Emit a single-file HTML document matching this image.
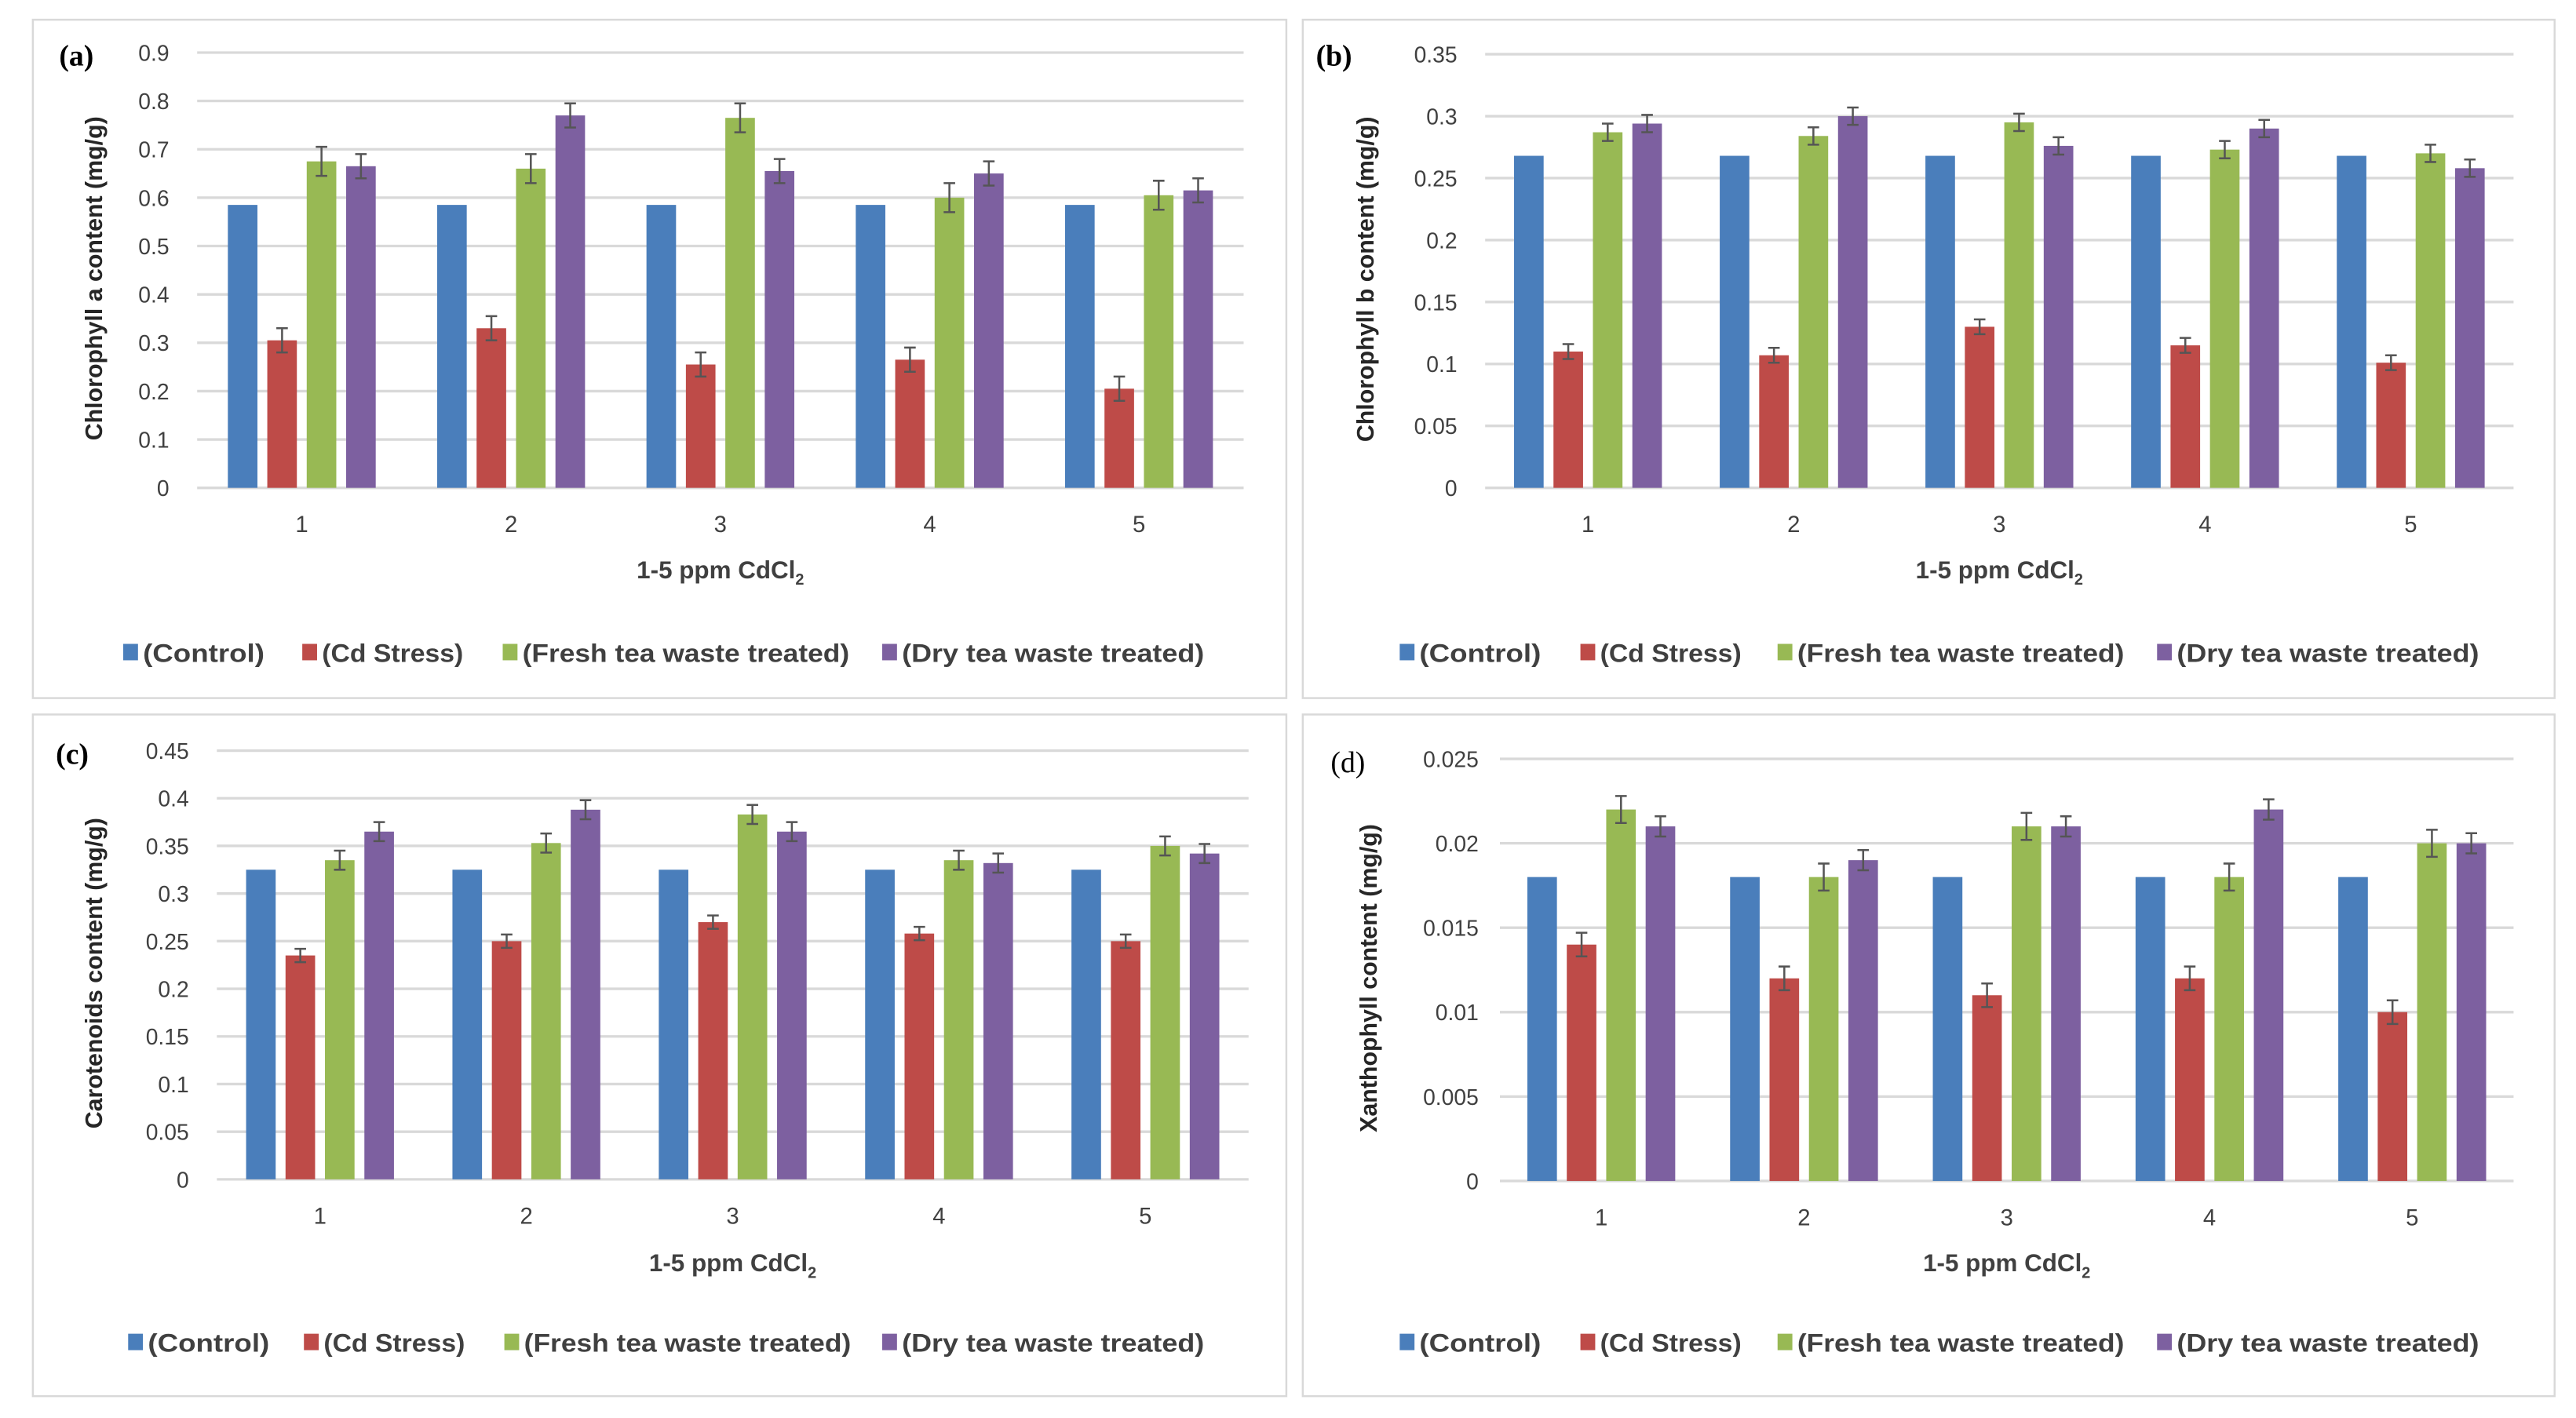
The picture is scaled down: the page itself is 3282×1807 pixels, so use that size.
<!DOCTYPE html>
<html><head><meta charset="utf-8"><style>
html,body{margin:0;padding:0;background:#fff;}
svg{display:block;font-family:"Liberation Sans",sans-serif;}
</style></head><body>
<svg id="fig" width="3282" height="1807" viewBox="0 0 1568 863.3"></svg>
<script>
const categories = ["1","2","3","4","5"];
const seriesNames = ["(Control)","(Cd Stress)","(Fresh tea waste treated)","(Dry tea waste treated)"];
const aControl = [0.585,0.585,0.585,0.585,0.585];
const aCd = [0.305,0.33,0.255,0.265,0.205];
const aFresh = [0.675,0.66,0.765,0.6,0.605];
const aDry = [0.665,0.77,0.655,0.65,0.615];
const aTicks = ["0","0.1","0.2","0.3","0.4","0.5","0.6","0.7","0.8","0.9"];
const bControl = [0.268,0.268,0.268,0.268,0.268];
const bCd = [0.11,0.107,0.13,0.115,0.101];
const bFresh = [0.287,0.284,0.295,0.273,0.27];
const bDry = [0.294,0.3,0.276,0.29,0.258];
const bTicks = ["0","0.05","0.1","0.15","0.2","0.25","0.3","0.35"];
const cControl = [0.325,0.325,0.325,0.325,0.325];
const cCd = [0.235,0.25,0.27,0.258,0.25];
const cFresh = [0.335,0.353,0.383,0.335,0.35];
const cDry = [0.365,0.388,0.365,0.332,0.342];
const cTicks = ["0","0.05","0.1","0.15","0.2","0.25","0.3","0.35","0.4","0.45"];
const dControl = [0.018,0.018,0.018,0.018,0.018];
const dCd = [0.014,0.012,0.011,0.012,0.010];
const dFresh = [0.022,0.018,0.021,0.018,0.020];
const dDry = [0.021,0.019,0.021,0.022,0.020];
const dTicks = ["0","0.005","0.01","0.015","0.02","0.025"];

const colors = ["#4a7ebb","#be4b48","#98b954","#7d60a0"];
const legendLens = [74,86,199,184];
const NS = "http://www.w3.org/2000/svg";
const svg = document.getElementById("fig");
function mk(tag, attrs, parent, text){
  const e = document.createElementNS(NS, tag);
  for (const k in attrs) e.setAttribute(k, attrs[k]);
  if (text !== undefined) e.textContent = text;
  (parent||svg).appendChild(e);
  return e;
}
const panels = [
 {id:"a", frame:[20,12,763,413], left:120, right:757, top:32, bottom:297, ticks:aTicks, series:[aControl,aCd,aFresh,aDry], err:[0,0.025,0.03,0.025], ytitle:"Chlorophyll a content  (mg/g)", ytx:62, lab:[36,40], tickX:103, catY:324, titleY:352, legY:403, legX:[75,184,306,537]},
 {id:"b", frame:[793,12,762,413], left:904, right:1530, top:33, bottom:297, ticks:bTicks, series:[bControl,bCd,bFresh,bDry], err:[0,0.006,0.007,0.007], ytitle:"Chlorophyll b content  (mg/g)", ytx:836, lab:[801,40], tickX:887, catY:324, titleY:352, legY:403, legX:[852,962,1082,1313]},
 {id:"c", frame:[20,435,763,415], left:132, right:760, top:457, bottom:718, ticks:cTicks, series:[cControl,cCd,cFresh,cDry], err:[0,0.007,0.01,0.01], ytitle:"Carotenoids content  (mg/g)", ytx:62, lab:[34,465], tickX:115, catY:745, titleY:774, legY:823, legX:[78,185,307,537]},
 {id:"d", frame:[793,435,762,415], left:913, right:1530, top:462, bottom:719, ticks:dTicks, series:[dControl,dCd,dFresh,dDry], err:[0,0.0007,0.0008,0.0006], ytitle:"Xanthophyll content (mg/g)", ytx:838, lab:[810,470], tickX:900, catY:746, titleY:774, legY:823, legX:[852,962,1082,1313]}
];
panels.forEach(p=>{
  const g = mk("g",{});
  
  
  const fr = mk("rect",{x:p.frame[0],y:p.frame[1],width:p.frame[2],height:p.frame[3],fill:"#fff",stroke:"#d9d9d9","stroke-width":1.2},g);
  
  
  const maxV = parseFloat(p.ticks[p.ticks.length-1]);
  const y = v => p.bottom - v/maxV*(p.bottom-p.top);
  const band = (p.right-p.left)/categories.length;
  const xc = i => p.left + band*(i+0.5);
  p.ticks.forEach(t=>{
    const v = parseFloat(t);
    const gl = mk("line",{x1:p.left,x2:p.right,y1:y(v),y2:y(v),stroke:"#d9d9d9","stroke-width":1.6},g);
    
    
    const tl = mk("text",{x:p.tickX,y:y(v)+5,"text-anchor":"end","font-size":13.5,fill:"#404040"},g,t);
    
    
  });
  const bw = 18, step = 24;
  categories.forEach((c,i)=>{
    p.series.forEach((s,k)=>{
      const bx = xc(i) - 1.5*step + k*step - bw/2;
      const r = mk("rect",{x:bx,y:y(s[i]),width:bw,height:p.bottom-y(s[i]),fill:colors[k]},g);
      
      
      if (p.err[k]>0){
        const cx = bx+bw/2, y1=y(s[i]+p.err[k]), y2=y(s[i]-p.err[k]);
        const eb = mk("path",{d:`M${cx},${y1}V${y2}M${cx-3.5},${y1}H${cx+3.5}M${cx-3.5},${y2}H${cx+3.5}`,stroke:"#555","stroke-width":1.2,fill:"none"},g);
        
        
      }
    });
    const cl = mk("text",{x:xc(i),y:p.catY,"text-anchor":"middle","font-size":14,fill:"#404040"},g,c);
    
    
  });
  const xt = mk("text",{x:(p.left+p.right)/2,y:p.titleY,"text-anchor":"middle","font-size":15,"font-weight":"bold",fill:"#404040"},g);
  xt.innerHTML = '1-5 ppm CdCl<tspan font-size="9.5" dy="4">2</tspan>';
  
  
  const cy = (p.top+p.bottom)/2 + 5;
  const yt = mk("text",{x:p.ytx,y:cy,transform:`rotate(-90 ${p.ytx} ${cy})`,"text-anchor":"middle","font-size":14.5,"font-weight":"bold",fill:"#262626"},g,p.ytitle);
  
  
  const pl = mk("text",{x:p.lab[0],y:p.lab[1],"font-size":18,"font-weight":p.id==="d"?"normal":"bold","font-family":"Liberation Serif, serif",fill:"#000"},g,"("+p.id+")");
  
  
  seriesNames.forEach((n,k)=>{
    const lx = p.legX[k];
    const sq = mk("rect",{x:lx,y:p.legY-11,width:9,height:10,fill:colors[k]},g);
    
    
    const lt = mk("text",{x:lx+12,y:p.legY,"font-size":15.5,"font-weight":"bold",fill:"#404040",textLength:legendLens[k],lengthAdjust:"spacingAndGlyphs"},g,n);
    
    
  });
});
</script>
</body></html>
